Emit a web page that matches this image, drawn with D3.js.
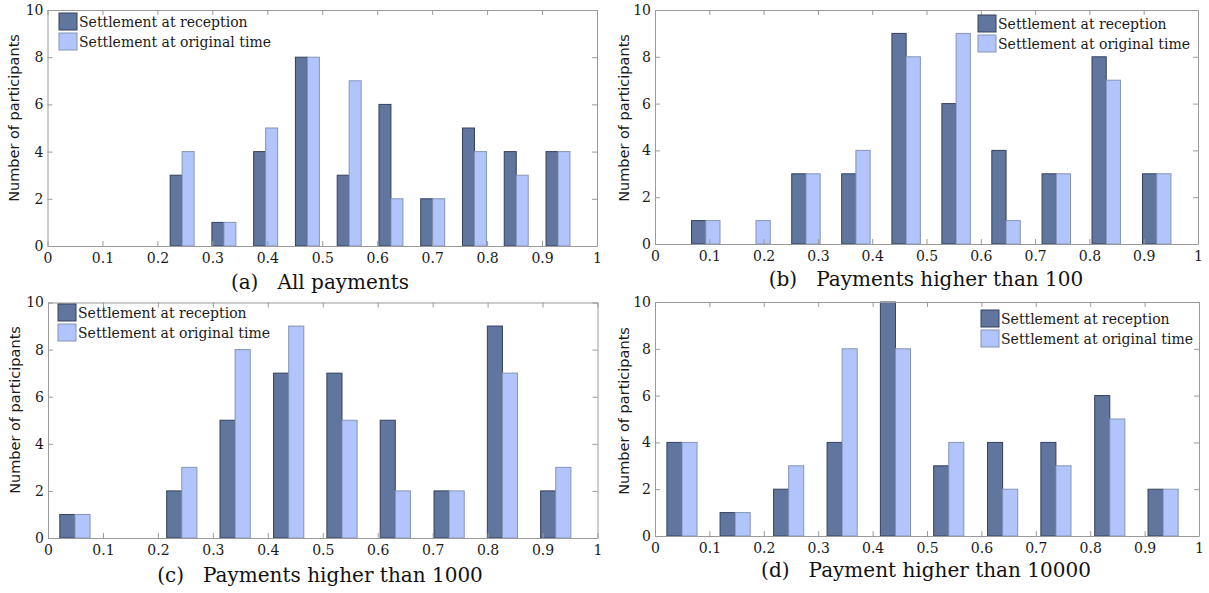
<!DOCTYPE html>
<html>
<head>
<meta charset="utf-8">
<script src="https://cdn.jsdelivr.net/npm/d3@7"></script>
<style>
  html, body { margin: 0; padding: 0; background: #fff; }
  svg { display: block; }
</style>
</head>
<body>
<svg id="chart" width="1209" height="593"></svg>
<script>
// ---------------- DATA ----------------
const seriesNames = ["Settlement at reception", "Settlement at original time"];
const xTickValues = [0, 0.1, 0.2, 0.3, 0.4, 0.5, 0.6, 0.7, 0.8, 0.9, 1];
const yTickValues = [0, 2, 4, 6, 8, 10];
const panelTitles = ["(a)   All payments", "(b)   Payments higher than 100",
                     "(c)   Payments higher than 1000", "(d)   Payment higher than 10000"];
const yAxisLabel = "Number of participants";

// (a) All payments
const binCentersA = [0.245, 0.321, 0.397, 0.473, 0.549, 0.625, 0.701, 0.777, 0.853, 0.929];
const receptionA  = [3, 1, 4, 8, 3, 6, 2, 5, 4, 4];
const originalA   = [4, 1, 5, 8, 7, 2, 2, 4, 3, 4];

// (b) Payments higher than 100
const binCentersB = [0.0935, 0.186, 0.278, 0.370, 0.4625, 0.5545, 0.6465, 0.739, 0.831, 0.924];
const receptionB  = [1, 0, 3, 3, 9, 6, 4, 3, 8, 3];
const originalB   = [1, 1, 3, 4, 8, 9, 1, 3, 7, 3];

// (c) Payments higher than 1000
const binCentersC = [0.049, 0.146, 0.2435, 0.3405, 0.438, 0.535, 0.632, 0.730, 0.827, 0.924];
const receptionC  = [1, 0, 2, 5, 7, 7, 5, 2, 9, 2];
const originalC   = [1, 0, 3, 8, 9, 5, 2, 2, 7, 3];

// (d) Payment higher than 10000
const binCentersD = [0.0496, 0.1473, 0.2457, 0.344, 0.442, 0.540, 0.639, 0.737, 0.836, 0.934];
const receptionD  = [4, 1, 2, 4, 10, 3, 4, 4, 6, 2];
const originalD   = [4, 1, 3, 8, 8, 4, 2, 3, 5, 2];

// ---------------- LAYOUT / STYLE ----------------
const SERIF = "'DejaVu Serif', 'Liberation Serif', serif";
const SANS = "'DejaVu Sans', 'Liberation Sans', sans-serif";
const colors = { fill: ["#60769f", "#b1c5fc"], stroke: ["#34405c", "#8494b4"] };
const axisColor = "#9a9a9a";

const panels = [
  { centers: binCentersA, values: [receptionA, originalA], title: panelTitles[0],
    left: 47.5, right: 597, top: 10, bottom: 246, barW: 0.0218,
    titleX: 320, titleY: 289, ylabX: 14, ylabY: 118, legX: 59, legY: 13 },
  { centers: binCentersB, values: [receptionB, originalB], title: panelTitles[1],
    left: 655, right: 1198, top: 10, bottom: 244, barW: 0.0262,
    titleX: 926, titleY: 286, ylabX: 624, ylabY: 118, legX: 978, legY: 15 },
  { centers: binCentersC, values: [receptionC, originalC], title: panelTitles[2],
    left: 48, right: 597.5, top: 302.5, bottom: 538, barW: 0.0275,
    titleX: 320, titleY: 582, ylabX: 15, ylabY: 410, legX: 58, legY: 304 },
  { centers: binCentersD, values: [receptionD, originalD], title: panelTitles[3],
    left: 655, right: 1199, top: 302, bottom: 536, barW: 0.0277,
    titleX: 926, titleY: 577, ylabX: 624, ylabY: 411, legX: 981, legY: 310 }
];

const svg = d3.select("#chart");

panels.forEach(p => {
  const x = d3.scaleLinear().domain([0, 1]).range([p.left, p.right]);
  const y = d3.scaleLinear().domain([0, 10]).range([p.bottom, p.top]);
  const g = svg.append("g");

  // bars
  p.values.forEach((vals, si) => {
    g.selectAll(null)
      .data(vals.map((v, i) => ({ c: p.centers[i], v })))
      .enter().filter(d => d.v > 0)
      .append("rect")
      .attr("x", d => si === 0 ? x(d.c - p.barW) : x(d.c))
      .attr("width", d => x(d.c + p.barW) - x(d.c))
      .attr("y", d => y(d.v))
      .attr("height", d => y(0) - y(d.v))
      .attr("fill", colors.fill[si])
      .attr("stroke", colors.stroke[si])
      .attr("stroke-width", 1);
  });

  // axes
  const styleAxis = sel => {
    sel.selectAll("path.domain").attr("stroke", axisColor);
    sel.selectAll(".tick line").attr("stroke", axisColor);
    sel.selectAll(".tick text").attr("fill", "#1a1a1a")
      .style("font-family", SERIF).style("font-size", "13px");
  };
  g.append("g").attr("transform", `translate(0,${p.bottom})`)
    .call(d3.axisBottom(x).tickValues(xTickValues).tickFormat(d => String(d))
      .tickSizeInner(-5).tickSizeOuter(0).tickPadding(7))
    .call(styleAxis);
  g.append("g").attr("transform", `translate(0,${p.top})`)
    .call(d3.axisTop(x).tickValues(xTickValues).tickFormat("")
      .tickSizeInner(-5).tickSizeOuter(0))
    .call(styleAxis);
  g.append("g").attr("transform", `translate(${p.left},0)`)
    .call(d3.axisLeft(y).tickValues(yTickValues).tickFormat(d => String(d))
      .tickSizeInner(-5).tickSizeOuter(0).tickPadding(4))
    .call(styleAxis);
  g.append("g").attr("transform", `translate(${p.right},0)`)
    .call(d3.axisRight(y).tickValues(yTickValues).tickFormat("")
      .tickSizeInner(-5).tickSizeOuter(0))
    .call(styleAxis);
  g.selectAll(".tick text").style("font-size", "14px");

  // y label
  g.append("text")
    .attr("transform", `translate(${p.ylabX},${p.ylabY}) rotate(-90)`)
    .attr("text-anchor", "middle").attr("dominant-baseline", "central")
    .style("font-family", SANS).style("font-size", "14.5px").attr("fill", "#1a1a1a")
    .text(yAxisLabel);

  // title
  g.append("text")
    .attr("x", p.titleX).attr("y", p.titleY)
    .attr("text-anchor", "middle")
    .style("white-space", "pre")
    .style("font-family", SERIF).style("font-size", "20px").attr("fill", "#111")
    .text(p.title);

  // legend
  seriesNames.forEach((name, si) => {
    const ly = p.legY + si * 20;
    g.append("rect").attr("x", p.legX).attr("y", ly).attr("width", 18).attr("height", 17)
      .attr("fill", colors.fill[si]).attr("stroke", colors.stroke[si]);
    g.append("text").attr("x", p.legX + 20).attr("y", ly + 9)
      .attr("dominant-baseline", "central")
      .style("font-family", SERIF).style("font-size", "14px").attr("fill", "#1a1a1a")
      .text(name);
  });
});
</script>
</body>
</html>
